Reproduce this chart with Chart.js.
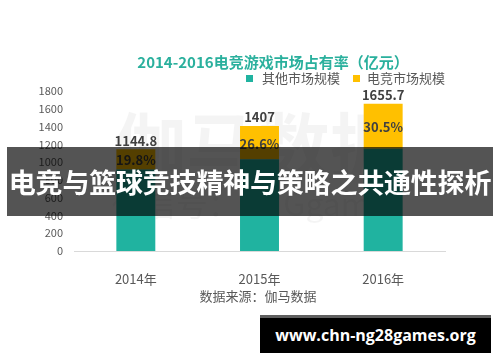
<!DOCTYPE html>
<html>
<head>
<meta charset="utf-8">
<script src="https://cdn.jsdelivr.net/npm/chart.js@4.4.1/dist/chart.umd.min.js"></script>
<style>
  body { margin: 0; background: #fff; }
  #wrap { position: relative; width: 500px; height: 362px; overflow: hidden; font-family: "Noto Sans CJK SC", "Noto Sans", sans-serif; }
  #banner {
    position: absolute; left: 7px; top: 147px; width: 486px; height: 69px;
    background: rgba(0, 0, 0, 0.67); color: #fff; font-weight: bold;
    font-size: 27px; line-height: 69px; text-align: center; letter-spacing: -0.2px; white-space: nowrap;
  }
  #site {
    position: absolute; left: 260px; top: 315px; width: 231px; height: 35px;
    background: #000; border-top: 3px solid #5f5f5f; color: #fff; font-weight: bold;
    font-family: "Open Sans", sans-serif; font-size: 16px; line-height: 35px; text-align: center;
  }
</style>
</head>
<body>
<div id="wrap">
  <canvas id="c" width="500" height="362"></canvas>
  <div id="banner">电竞与篮球竞技精神与策略之共通性探析</div>
  <div id="site">www.chn-ng28games.org</div>
</div>
<script>
// data
const years = ['2014年', '2015年', '2016年'];
const totals = [1144.8, 1407, 1655.7];
const esportShare = [19.8, 26.6, 30.5];
const esportSize = [226.7, 374.3, 505.0];
const otherSize = [918.1, 1032.7, 1150.7];
const yTicks = [0, 200, 400, 600, 800, 1000, 1200, 1400, 1600, 1800];

const teal = '#20B3A0';
const orange = '#FFC000';
const cjk = '"Noto Sans CJK SC", "Noto Sans", sans-serif';

// title, legend, watermark and source line
const decor = {
    id: 'decor',
    beforeDatasetsDraw(chart) {
        const ctx = chart.ctx;
        ctx.save();
        ctx.fillStyle = 'rgba(0,0,0,0.045)';
        ctx.textAlign = 'center';
        ctx.textBaseline = 'middle';
        ctx.font = 'bold 72px ' + cjk;
        ctx.fillText('伽马数据', 258, 146);
        ctx.font = '32px ' + cjk;
        ctx.fillText('微信号：CNGgame', 250, 204);
        ctx.restore();
    },
    afterDraw(chart) {
        const ctx = chart.ctx;
        ctx.save();
        ctx.textBaseline = 'middle';
        ctx.textAlign = 'center';
        ctx.fillStyle = '#2AB09D';
        ctx.font = 'bold 15px ' + cjk;
        ctx.fillText('2014-2016电竞游戏市场占有率（亿元）', 273, 62);

        ctx.textAlign = 'left';
        ctx.font = '13px ' + cjk;
        ctx.fillStyle = teal;
        ctx.fillRect(246, 75, 7, 7);
        ctx.fillStyle = '#595959';
        ctx.fillText('其他市场规模', 262, 78);
        ctx.fillStyle = orange;
        ctx.fillRect(353, 75, 7, 7);
        ctx.fillStyle = '#595959';
        ctx.fillText('电竞市场规模', 367, 78);

        ctx.textAlign = 'center';
        ctx.font = '13px ' + cjk;
        ctx.fillText('数据来源：伽马数据', 258, 296);
        ctx.restore();
    }
};

// totals above bars, shares inside the orange segment
const barLabels = {
    id: 'barLabels',
    afterDatasetsDraw(chart) {
        const ctx = chart.ctx;
        const meta = chart.getDatasetMeta(1);
        ctx.save();
        ctx.fillStyle = '#404040';
        ctx.textAlign = 'center';
        ctx.font = 'bold 13px ' + cjk;
        meta.data.forEach((bar, i) => {
            ctx.textBaseline = 'bottom';
            ctx.fillText(String(totals[i]), bar.x, bar.y - 2);
            ctx.textBaseline = 'middle';
            ctx.fillText(esportShare[i].toFixed(1) + '%', bar.x, (bar.y + bar.base) / 2 + 1);
        });
        ctx.restore();
    }
};

new Chart(document.getElementById('c'), {
    type: 'bar',
    data: {
        labels: years,
        datasets: [
            { label: '其他市场规模', data: otherSize, backgroundColor: teal },
            { label: '电竞市场规模', data: esportSize, backgroundColor: orange }
        ]
    },
    options: {
        responsive: false,
        animation: false,
        layout: { padding: { top: 91, right: 55, left: 0, bottom: 0 } },
        datasets: { bar: { categoryPercentage: 1, barPercentage: 0.315 } },
        plugins: { legend: { display: false }, title: { display: false }, tooltip: { enabled: false } },
        scales: {
            x: {
                stacked: true,
                grid: { display: false },
                border: { color: '#d9d9d9' },
                ticks: { color: '#595959', font: { size: 13, family: cjk }, padding: 12 },
                afterFit(scale) { scale.height = 111; }
            },
            y: {
                stacked: true,
                min: 0,
                max: 1800,
                afterBuildTicks(scale) { scale.ticks = yTicks.map(v => ({ value: v })); },
                grid: { display: false, drawTicks: false },
                border: { display: false },
                ticks: {
                    color: '#595959',
                    font: { size: 11, family: cjk },
                    padding: 11,
                    callback: v => String(v)
                },
                afterFit(scale) { scale.width = 74; }
            }
        }
    },
    plugins: [decor, barLabels]
});
</script>
</body>
</html>
